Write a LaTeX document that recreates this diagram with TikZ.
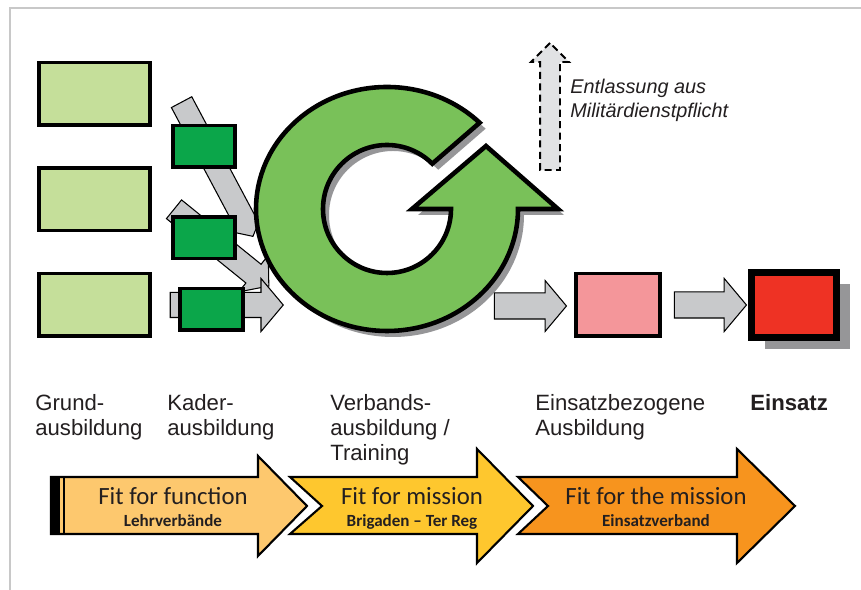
\documentclass[tikz,border=0pt]{standalone}
\usepackage{fontspec}
\setmainfont{Liberation Sans}
\newfontfamily\calib{Carlito}
\usepackage{xcolor}
\usepackage{tikz}
\usetikzlibrary{calc}
\usetikzlibrary{shapes.arrows}
\usetikzlibrary{shadows}
\definecolor{framegray}{RGB}{200,200,200}
\definecolor{grundgreen}{RGB}{197,223,154}
\definecolor{kadergreen}{RGB}{11,166,74}
\definecolor{ringgreen}{RGB}{121,193,89}
\definecolor{shadowgray}{RGB}{150,150,152}
\definecolor{flowgray}{RGB}{200,201,203}
\definecolor{exitgray}{RGB}{225,226,228}
\definecolor{prepink}{RGB}{244,150,154}
\definecolor{einsatzred}{RGB}{238,50,36}
\definecolor{functionorange}{RGB}{253,200,110}
\definecolor{missionyellow}{RGB}{254,199,46}
\definecolor{theorange}{RGB}{247,148,30}
\definecolor{textblack}{RGB}{35,31,32}
\tikzset{>=latex}
\tikzstyle{box} = [draw=black, line width=2pt, inner sep=0]
\tikzstyle{grund} = [box, fill=grundgreen, minimum width=22.3mm, minimum height=12.5mm]
\tikzstyle{kader} = [box, fill=kadergreen, minimum width=12.5mm, minimum height=8.3mm]
\tikzstyle{flow} = [single arrow, draw=black, line width=0.6pt, fill=flowgray, inner xsep=0, single arrow tip angle=100]
\tikzstyle{lbl} = [draw=none, inner sep=0, anchor=north west, align=left, text=textblack, font=\fontsize{12.6}{14.2}\selectfont]
\tikzstyle{phase} = [draw=black, line width=1.2pt, line join=miter]
\tikzstyle{fit} = [draw=none, inner sep=0, anchor=base, text=textblack, font=\calib\fontsize{14.1}{16}\selectfont]
\tikzstyle{unit} = [draw=none, inner sep=0, anchor=base, text=textblack, font=\calib\bfseries\fontsize{9.7}{11}\selectfont]
\newcommand{\ringpath}{(479.63,467.27) arc[start angle=45, end angle=360, x radius=131, y radius=122] -- (558,381) -- (486,444) -- (412,381) -- (451,381) arc[start angle=360, end angle=45, radius=64] -- cycle}

\begin{document}
\begin{tikzpicture}[x=0.2mm, y=0.2mm]
\useasboundingbox (0,0) rectangle (861,590);
\fill[white] (0,0) rectangle (861,590);
\draw[framegray, line width=1.2pt] (10,0) -- (10,582) -- (861,582);
% gray feeds into the training cycle
\node[flow, minimum height=30.4mm, inner ysep=2.2mm, single arrow head extend=2.2mm, rotate=-62] (a1) at (215,425) {};
\node[flow, minimum height=24.4mm, inner ysep=2.3mm, single arrow head extend=2.3mm, rotate=-39] (a2) at (217.5,345.5) {};
\node[flow, minimum height=22.6mm, inner ysep=2.4mm, single arrow head extend=2.8mm] (a3) at (221.5,285) {};
\node[grund] (G1) at (94.5,496) {};
\node[grund] (G2) at (94.5,390.5) {};
\node[grund] (G3) at (94.5,285) {};
\node[kader] (K1) at (204,443.5) {};
\node[kader] (K2) at (204,352) {};
\node[kader] (K3) at (211.5,280.5) {};
% Verbandsausbildung cycle
\fill[shadowgray, shift={(6,-6)}] \ringpath;
\filldraw[fill=ringgreen, draw=black, line width=2.6pt, line join=miter] \ringpath;
\node[box, fill=prepink, minimum width=16.9mm, minimum height=12.5mm] (P) at (618,285) {};
\node[box, line width=4pt, fill=einsatzred, minimum width=17mm, minimum height=13mm, drop shadow={shadow xshift=2.6mm, shadow yshift=-2.4mm, fill=shadowgray, opacity=1}] (R) at (794,285) {};
\node[flow, minimum height=14.4mm, inner ysep=2.5mm, single arrow head extend=2.5mm] (a4) at (525,284) {};
\node[flow, minimum height=14.4mm, inner ysep=2.5mm, single arrow head extend=2.7mm] (a5) at ($(P.east)!0.5!(R.west)$) {};
\node[flow, dashed, dash pattern=on 4pt off 2.5pt, line width=1.1pt, fill=exitgray, minimum height=25.4mm, inner ysep=1.8mm, single arrow head extend=1.8mm, single arrow tip angle=90, rotate=90] (X) at (550,478.5) {};
\node[draw=none, inner sep=0, anchor=north west, align=left, text=textblack, font=\itshape\fontsize{11.3}{13.8}\selectfont] (T) at (570,511) {Entlassung aus\\Militärdienstpflicht};
\node[lbl] (L1) at (35,196) {Grund-\\ausbildung};
\node[lbl] (L2) at (167,196) {Kader-\\ausbildung};
\node[lbl] (L3) at (330,196) {Verbands-\\ausbildung /\\Training};
\node[lbl] (L4) at (535,196) {Einsatzbezogene\\Ausbildung};
\node[lbl, font=\bfseries\fontsize{12.6}{14.2}\selectfont] (L5) at (750,196) {Einsatz};
% phases
\filldraw[phase, fill=functionorange] (51,56) -- (258,56) -- (258,34) -- (307,84) -- (258,134) -- (258,113) -- (51,113) -- cycle;
\fill[black] (51,56) rectangle (60,113);
\draw[black, line width=0.8pt] (64,56) -- (64,113);
\filldraw[phase, fill=missionyellow] (290,113) -- (477,113) -- (477,141) -- (533,84) -- (477,27) -- (477,56) -- (290,56) -- (322,84) -- cycle;
\filldraw[phase, fill=theorange] (518,113) -- (737,113) -- (737,141) -- (795,84) -- (737,27) -- (737,56) -- (518,56) -- (548,84) -- cycle;
\node[fit] (F1) at (173,85) {Fit for function};
\node[unit] (U1) at (173,63) {Lehrverbände};
\node[fit] (F2) at (412,85) {Fit for mission};
\node[unit] (U2) at (412,63) {Brigaden – Ter Reg};
\node[fit] (F3) at (656,85) {Fit for the mission};
\node[unit] (U3) at (656,63) {Einsatzverband};
\end{tikzpicture}
\end{document}
